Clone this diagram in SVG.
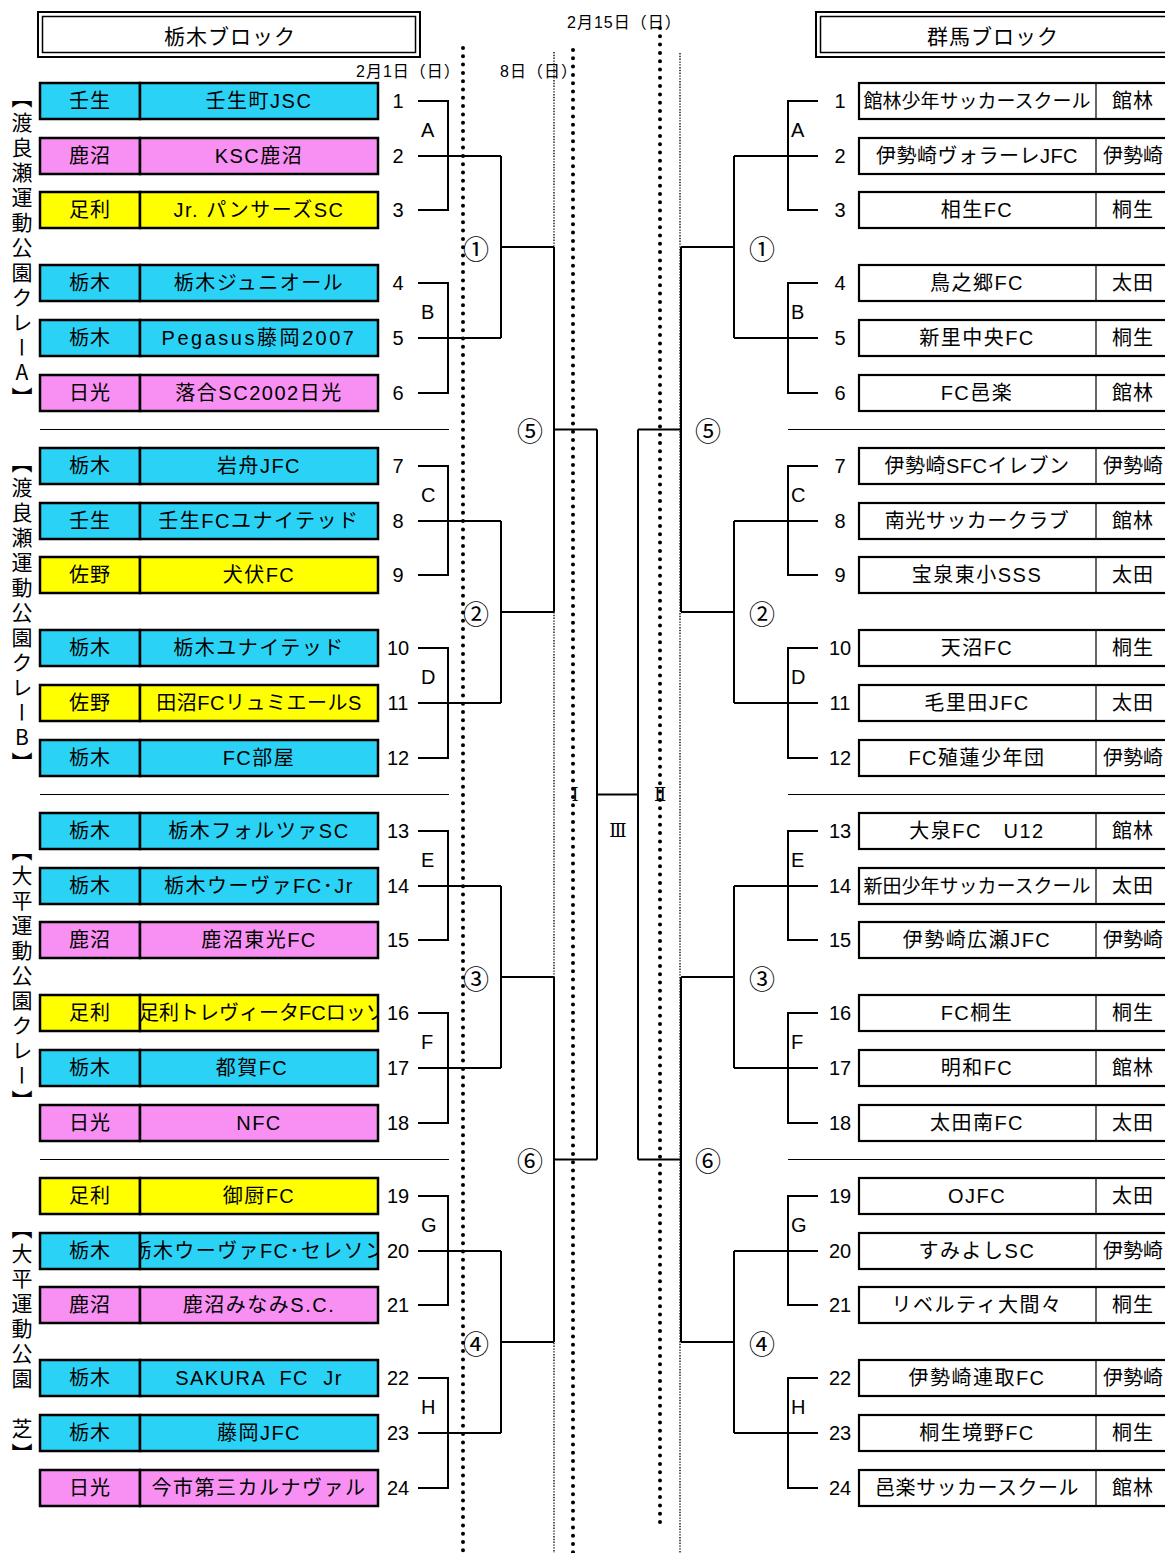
<svg xmlns="http://www.w3.org/2000/svg" width="1165" height="1553" viewBox="0 0 1165 1553">
<style>
.pc{fill:#2AD3F6}.pk{fill:#F790F2}.py{fill:#FFFF00}
.bx{stroke:#000;stroke-width:2.5}
.rb{fill:#fff;stroke:#000;stroke-width:2.2}
.dv{stroke:#000;stroke-width:1.2}
.nm{font-family:"Liberation Sans","Noto Sans CJK JP",sans-serif;font-size:20px;text-anchor:middle;dominant-baseline:central;letter-spacing:1.5px}
.nz{font-family:"Liberation Sans","Noto Sans CJK JP",sans-serif;font-size:19px;text-anchor:middle;dominant-baseline:central}
.pf{font-family:"Liberation Sans","Noto Sans CJK JP",sans-serif;font-size:20px;text-anchor:middle;dominant-baseline:central;letter-spacing:1px}
.no{font-family:"Liberation Sans","Noto Sans CJK JP",sans-serif;font-size:20px;text-anchor:middle;dominant-baseline:central}
.lt{font-family:"Liberation Sans",sans-serif;font-size:20px;dominant-baseline:central}
.ci{font-family:"Noto Sans CJK JP",sans-serif;font-size:26px;text-anchor:middle;dominant-baseline:central}
.rm{font-family:"DejaVu Serif","Noto Sans CJK JP",serif;font-size:18px;text-anchor:middle;dominant-baseline:central}
.dt{font-family:"Liberation Sans","Noto Sans CJK JP",sans-serif;font-size:16px;dominant-baseline:central;letter-spacing:1px}
.hd{font-family:"Noto Sans CJK JP",sans-serif;font-size:21px;text-anchor:middle;dominant-baseline:central;letter-spacing:1px}
.vt{font-family:"Noto Sans CJK JP",sans-serif;font-size:21px;writing-mode:vertical-rl;text-orientation:upright;letter-spacing:4px}
.ln{stroke:#000;stroke-width:2;fill:none}
.sp{stroke:#000;stroke-width:1;fill:none}
.bd{stroke:#000;stroke-width:4;stroke-linecap:round;stroke-dasharray:0 8.3;fill:none}
.td{stroke:#000;stroke-width:1.3;stroke-dasharray:1.4 1.4;fill:none}
</style>
<defs>
<clipPath id="cl16"><rect x="141" y="995" width="236" height="36"/></clipPath>
<clipPath id="cl20"><rect x="141" y="1233" width="236" height="36"/></clipPath>
</defs>

<g id="guides">
<line class="bd" x1="463" y1="48" x2="463" y2="1553"/>
<line class="bd" x1="573" y1="50" x2="573" y2="1553"/>
<line class="bd" x1="660" y1="28" x2="660" y2="1530"/>
<line class="td" x1="554" y1="52" x2="554" y2="1553"/>
<line class="td" x1="680" y1="53" x2="680" y2="1553"/>
<line class="sp" x1="40" y1="429.5" x2="449" y2="429.5"/>
<line class="sp" x1="40" y1="794.5" x2="449" y2="794.5"/>
<line class="sp" x1="40" y1="1159.5" x2="449" y2="1159.5"/>
<line class="sp" x1="788" y1="429.5" x2="1165" y2="429.5"/>
<line class="sp" x1="788" y1="794.5" x2="1165" y2="794.5"/>
<line class="sp" x1="788" y1="1159.5" x2="1165" y2="1159.5"/>
</g>

<g id="header-tochigi">
<rect x="38" y="12" width="382" height="45" fill="#fff" stroke="#000" stroke-width="2"/>
<rect x="42.5" y="16.5" width="373" height="36" fill="none" stroke="#000" stroke-width="1.5"/>
<text class="hd" x="230" y="35">栃木ブロック</text>
</g>
<g id="header-gunma">
<rect x="816" y="12" width="360" height="45" fill="#fff" stroke="#000" stroke-width="2"/>
<rect x="820.5" y="16.5" width="352" height="36" fill="none" stroke="#000" stroke-width="1.5"/>
<text class="hd" x="993" y="35">群馬ブロック</text>
</g>
<g id="dates">
<text class="dt" x="356" y="71">2月1日（日）</text>
<text class="dt" x="500" y="71">8日（日）</text>
<text class="dt" x="567" y="22">2月15日（日）</text>
</g>

<g id="venues">
<text class="vt" x="22" y="86.5">【渡良瀬運動公園クレーA】</text>
<text class="vt" x="22" y="452">【渡良瀬運動公園クレーB】</text>
<text class="vt" x="22" y="839.5">【大平運動公園クレー】</text>
<text class="vt" x="22" y="1217.5">【大平運動公園　芝】</text>
</g>

<g id="connectors">
<path class="ln" d="M418 101H448V210H418M418 156H501M418 283H448V393H418M418 338H501M501 156V338M501 247H554"/>
<path class="ln" d="M418 466H448V575H418M418 521H501M418 648H448V758H418M418 703H501M501 521V703M501 612H554"/>
<path class="ln" d="M418 831H448V940H418M418 886H501M418 1013H448V1123H418M418 1068H501M501 886V1068M501 977H554"/>
<path class="ln" d="M418 1196H448V1305H418M418 1251H501M418 1378H448V1488H418M418 1433H501M501 1251V1433M501 1342H554"/>
<path class="ln" d="M554 247V612M554 429.5H597M554 977V1342M554 1159.5H597M597 429.5V1159.5M597 794.5H638"/>
<path class="ln" d="M818 101H788V210H818M818 156H734M818 283H788V393H818M818 338H734M734 156V338M734 247H681"/>
<path class="ln" d="M818 466H788V575H818M818 521H734M818 648H788V758H818M818 703H734M734 521V703M734 612H681"/>
<path class="ln" d="M818 831H788V940H818M818 886H734M818 1013H788V1123H818M818 1068H734M734 886V1068M734 977H681"/>
<path class="ln" d="M818 1196H788V1305H818M818 1251H734M818 1378H788V1488H818M818 1433H734M734 1251V1433M734 1342H681"/>
<path class="ln" d="M681 247V612M681 429.5H638M681 977V1342M681 1159.5H638M638 429.5V1159.5"/>
</g>

<g id="labels">
<text class="lt" x="421" y="130">A</text>
<text class="lt" x="421" y="312">B</text>
<text class="lt" x="421" y="495">C</text>
<text class="lt" x="421" y="677">D</text>
<text class="lt" x="421" y="860">E</text>
<text class="lt" x="421" y="1042">F</text>
<text class="lt" x="421" y="1225">G</text>
<text class="lt" x="421" y="1407">H</text>
<text class="lt" x="791" y="130">A</text>
<text class="lt" x="791" y="312">B</text>
<text class="lt" x="791" y="495">C</text>
<text class="lt" x="791" y="677">D</text>
<text class="lt" x="791" y="860">E</text>
<text class="lt" x="791" y="1042">F</text>
<text class="lt" x="791" y="1225">G</text>
<text class="lt" x="791" y="1407">H</text>
<text class="ci" x="476" y="247">①</text>
<text class="ci" x="476" y="612">②</text>
<text class="ci" x="476" y="977">③</text>
<text class="ci" x="476" y="1342">④</text>
<text class="ci" x="530" y="429">⑤</text>
<text class="ci" x="530" y="1159">⑥</text>
<text class="ci" x="762" y="247">①</text>
<text class="ci" x="762" y="612">②</text>
<text class="ci" x="762" y="977">③</text>
<text class="ci" x="762" y="1342">④</text>
<text class="ci" x="708" y="429">⑤</text>
<text class="ci" x="708" y="1159">⑥</text>
<text class="rm" x="575" y="794">Ⅰ</text>
<text class="rm" x="660" y="794">Ⅱ</text>
<text class="rm" x="618" y="830">Ⅲ</text>
</g>

<g id="L1"><rect class="pc bx" x="40" y="83" width="100" height="36"/><rect class="pc bx" x="140" y="83" width="238" height="36"/><text class="pf" x="90" y="101">壬生</text><text class="nm" x="259" y="101">壬生町JSC</text><text class="no" x="398" y="101">1</text></g>
<g id="L2"><rect class="pk bx" x="40" y="138" width="100" height="36"/><rect class="pk bx" x="140" y="138" width="238" height="36"/><text class="pf" x="90" y="156">鹿沼</text><text class="nm" x="259" y="156">KSC鹿沼</text><text class="no" x="398" y="156">2</text></g>
<g id="L3"><rect class="py bx" x="40" y="192" width="100" height="36"/><rect class="py bx" x="140" y="192" width="238" height="36"/><text class="pf" x="90" y="210">足利</text><text class="nm" x="259" y="210">Jr. パンサーズSC</text><text class="no" x="398" y="210">3</text></g>
<g id="L4"><rect class="pc bx" x="40" y="265" width="100" height="36"/><rect class="pc bx" x="140" y="265" width="238" height="36"/><text class="pf" x="90" y="283">栃木</text><text class="nm" x="259" y="283">栃木ジュニオール</text><text class="no" x="398" y="283">4</text></g>
<g id="L5"><rect class="pc bx" x="40" y="320" width="100" height="36"/><rect class="pc bx" x="140" y="320" width="238" height="36"/><text class="pf" x="90" y="338">栃木</text><text class="nm" x="259" y="338" style="letter-spacing:2.5px">Pegasus藤岡2007</text><text class="no" x="398" y="338">5</text></g>
<g id="L6"><rect class="pk bx" x="40" y="375" width="100" height="36"/><rect class="pk bx" x="140" y="375" width="238" height="36"/><text class="pf" x="90" y="393">日光</text><text class="nm" x="259" y="393">落合SC2002日光</text><text class="no" x="398" y="393">6</text></g>
<g id="L7"><rect class="pc bx" x="40" y="448" width="100" height="36"/><rect class="pc bx" x="140" y="448" width="238" height="36"/><text class="pf" x="90" y="466">栃木</text><text class="nm" x="259" y="466">岩舟JFC</text><text class="no" x="398" y="466">7</text></g>
<g id="L8"><rect class="pc bx" x="40" y="503" width="100" height="36"/><rect class="pc bx" x="140" y="503" width="238" height="36"/><text class="pf" x="90" y="521">壬生</text><text class="nm" x="259" y="521">壬生FCユナイテッド</text><text class="no" x="398" y="521">8</text></g>
<g id="L9"><rect class="py bx" x="40" y="557" width="100" height="36"/><rect class="py bx" x="140" y="557" width="238" height="36"/><text class="pf" x="90" y="575">佐野</text><text class="nm" x="259" y="575">犬伏FC</text><text class="no" x="398" y="575">9</text></g>
<g id="L10"><rect class="pc bx" x="40" y="630" width="100" height="36"/><rect class="pc bx" x="140" y="630" width="238" height="36"/><text class="pf" x="90" y="648">栃木</text><text class="nm" x="259" y="648">栃木ユナイテッド</text><text class="no" x="398" y="648">10</text></g>
<g id="L11"><rect class="py bx" x="40" y="685" width="100" height="36"/><rect class="py bx" x="140" y="685" width="238" height="36"/><text class="pf" x="90" y="703">佐野</text><text class="nm" x="259" y="703" style="letter-spacing:0.5px">田沼FCリュミエールS</text><text class="no" x="398" y="703">11</text></g>
<g id="L12"><rect class="pc bx" x="40" y="740" width="100" height="36"/><rect class="pc bx" x="140" y="740" width="238" height="36"/><text class="pf" x="90" y="758">栃木</text><text class="nm" x="259" y="758">FC部屋</text><text class="no" x="398" y="758">12</text></g>
<g id="L13"><rect class="pc bx" x="40" y="813" width="100" height="36"/><rect class="pc bx" x="140" y="813" width="238" height="36"/><text class="pf" x="90" y="831">栃木</text><text class="nm" x="259" y="831">栃木フォルツァSC</text><text class="no" x="398" y="831">13</text></g>
<g id="L14"><rect class="pc bx" x="40" y="868" width="100" height="36"/><rect class="pc bx" x="140" y="868" width="238" height="36"/><text class="pf" x="90" y="886">栃木</text><text class="nm" x="259" y="886">栃木ウーヴァFC･Jr</text><text class="no" x="398" y="886">14</text></g>
<g id="L15"><rect class="pk bx" x="40" y="922" width="100" height="36"/><rect class="pk bx" x="140" y="922" width="238" height="36"/><text class="pf" x="90" y="940">鹿沼</text><text class="nm" x="259" y="940">鹿沼東光FC</text><text class="no" x="398" y="940">15</text></g>
<g id="L16"><rect class="py bx" x="40" y="995" width="100" height="36"/><rect class="py bx" x="140" y="995" width="238" height="36"/><text class="pf" x="90" y="1013">足利</text><text class="nm" x="139" y="1013" style="text-anchor:start;letter-spacing:0px" clip-path="url(#cl16)">足利トレヴィータFCロッソ</text><text class="no" x="398" y="1013">16</text></g>
<g id="L17"><rect class="pc bx" x="40" y="1050" width="100" height="36"/><rect class="pc bx" x="140" y="1050" width="238" height="36"/><text class="pf" x="90" y="1068">栃木</text><text class="nm" x="252" y="1068">都賀FC</text><text class="no" x="398" y="1068">17</text></g>
<g id="L18"><rect class="pk bx" x="40" y="1105" width="100" height="36"/><rect class="pk bx" x="140" y="1105" width="238" height="36"/><text class="pf" x="90" y="1123">日光</text><text class="nm" x="259" y="1123">NFC</text><text class="no" x="398" y="1123">18</text></g>
<g id="L19"><rect class="py bx" x="40" y="1178" width="100" height="36"/><rect class="py bx" x="140" y="1178" width="238" height="36"/><text class="pf" x="90" y="1196">足利</text><text class="nm" x="259" y="1196">御厨FC</text><text class="no" x="398" y="1196">19</text></g>
<g id="L20"><rect class="pc bx" x="40" y="1233" width="100" height="36"/><rect class="pc bx" x="140" y="1233" width="238" height="36"/><text class="pf" x="90" y="1251">栃木</text><text class="nm" x="259" y="1251" style="letter-spacing:1.4px" clip-path="url(#cl20)">栃木ウーヴァFC･セレソン</text><text class="no" x="398" y="1251">20</text></g>
<g id="L21"><rect class="pk bx" x="40" y="1287" width="100" height="36"/><rect class="pk bx" x="140" y="1287" width="238" height="36"/><text class="pf" x="90" y="1305">鹿沼</text><text class="nm" x="259" y="1305">鹿沼みなみS.C.</text><text class="no" x="398" y="1305">21</text></g>
<g id="L22"><rect class="pc bx" x="40" y="1360" width="100" height="36"/><rect class="pc bx" x="140" y="1360" width="238" height="36"/><text class="pf" x="90" y="1378">栃木</text><text class="nm" x="259" y="1378" xml:space="preserve">SAKURA  FC  Jr</text><text class="no" x="398" y="1378">22</text></g>
<g id="L23"><rect class="pc bx" x="40" y="1415" width="100" height="36"/><rect class="pc bx" x="140" y="1415" width="238" height="36"/><text class="pf" x="90" y="1433">栃木</text><text class="nm" x="259" y="1433">藤岡JFC</text><text class="no" x="398" y="1433">23</text></g>
<g id="L24"><rect class="pk bx" x="40" y="1470" width="100" height="36"/><rect class="pk bx" x="140" y="1470" width="238" height="36"/><text class="pf" x="90" y="1488">日光</text><text class="nm" x="259" y="1488">今市第三カルナヴァル</text><text class="no" x="398" y="1488">24</text></g>

<g id="R1"><rect class="rb" x="859" y="83" width="310" height="36"/><line class="dv" x1="1096" y1="83" x2="1096" y2="119"/><text class="nz" x="977" y="101">館林少年サッカースクール</text><text class="pf" x="1133" y="101">館林</text><text class="no" x="840" y="101">1</text></g>
<g id="R2"><rect class="rb" x="859" y="138" width="310" height="36"/><line class="dv" x1="1096" y1="138" x2="1096" y2="174"/><text class="nm" x="977" y="156" style="letter-spacing:0.5px">伊勢崎ヴォラーレJFC</text><text class="pf" x="1133" y="156" style="letter-spacing:0px">伊勢崎</text><text class="no" x="840" y="156">2</text></g>
<g id="R3"><rect class="rb" x="859" y="192" width="310" height="36"/><line class="dv" x1="1096" y1="192" x2="1096" y2="228"/><text class="nm" x="977" y="210">相生FC</text><text class="pf" x="1133" y="210">桐生</text><text class="no" x="840" y="210">3</text></g>
<g id="R4"><rect class="rb" x="859" y="265" width="310" height="36"/><line class="dv" x1="1096" y1="265" x2="1096" y2="301"/><text class="nm" x="977" y="283">鳥之郷FC</text><text class="pf" x="1133" y="283">太田</text><text class="no" x="840" y="283">4</text></g>
<g id="R5"><rect class="rb" x="859" y="320" width="310" height="36"/><line class="dv" x1="1096" y1="320" x2="1096" y2="356"/><text class="nm" x="977" y="338">新里中央FC</text><text class="pf" x="1133" y="338">桐生</text><text class="no" x="840" y="338">5</text></g>
<g id="R6"><rect class="rb" x="859" y="375" width="310" height="36"/><line class="dv" x1="1096" y1="375" x2="1096" y2="411"/><text class="nm" x="977" y="393">FC邑楽</text><text class="pf" x="1133" y="393">館林</text><text class="no" x="840" y="393">6</text></g>
<g id="R7"><rect class="rb" x="859" y="448" width="310" height="36"/><line class="dv" x1="1096" y1="448" x2="1096" y2="484"/><text class="nm" x="977" y="466" style="letter-spacing:0.5px">伊勢崎SFCイレブン</text><text class="pf" x="1133" y="466" style="letter-spacing:0px">伊勢崎</text><text class="no" x="840" y="466">7</text></g>
<g id="R8"><rect class="rb" x="859" y="503" width="310" height="36"/><line class="dv" x1="1096" y1="503" x2="1096" y2="539"/><text class="nm" x="977" y="521" style="letter-spacing:0.5px">南光サッカークラブ</text><text class="pf" x="1133" y="521">館林</text><text class="no" x="840" y="521">8</text></g>
<g id="R9"><rect class="rb" x="859" y="557" width="310" height="36"/><line class="dv" x1="1096" y1="557" x2="1096" y2="593"/><text class="nm" x="977" y="575">宝泉東小SSS</text><text class="pf" x="1133" y="575">太田</text><text class="no" x="840" y="575">9</text></g>
<g id="R10"><rect class="rb" x="859" y="630" width="310" height="36"/><line class="dv" x1="1096" y1="630" x2="1096" y2="666"/><text class="nm" x="977" y="648">天沼FC</text><text class="pf" x="1133" y="648">桐生</text><text class="no" x="840" y="648">10</text></g>
<g id="R11"><rect class="rb" x="859" y="685" width="310" height="36"/><line class="dv" x1="1096" y1="685" x2="1096" y2="721"/><text class="nm" x="977" y="703">毛里田JFC</text><text class="pf" x="1133" y="703">太田</text><text class="no" x="840" y="703">11</text></g>
<g id="R12"><rect class="rb" x="859" y="740" width="310" height="36"/><line class="dv" x1="1096" y1="740" x2="1096" y2="776"/><text class="nm" x="977" y="758">FC殖蓮少年団</text><text class="pf" x="1133" y="758" style="letter-spacing:0px">伊勢崎</text><text class="no" x="840" y="758">12</text></g>
<g id="R13"><rect class="rb" x="859" y="813" width="310" height="36"/><line class="dv" x1="1096" y1="813" x2="1096" y2="849"/><text class="nm" x="977" y="831">大泉FC　U12</text><text class="pf" x="1133" y="831">館林</text><text class="no" x="840" y="831">13</text></g>
<g id="R14"><rect class="rb" x="859" y="868" width="310" height="36"/><line class="dv" x1="1096" y1="868" x2="1096" y2="904"/><text class="nz" x="977" y="886">新田少年サッカースクール</text><text class="pf" x="1133" y="886">太田</text><text class="no" x="840" y="886">14</text></g>
<g id="R15"><rect class="rb" x="859" y="922" width="310" height="36"/><line class="dv" x1="1096" y1="922" x2="1096" y2="958"/><text class="nm" x="977" y="940">伊勢崎広瀬JFC</text><text class="pf" x="1133" y="940" style="letter-spacing:0px">伊勢崎</text><text class="no" x="840" y="940">15</text></g>
<g id="R16"><rect class="rb" x="859" y="995" width="310" height="36"/><line class="dv" x1="1096" y1="995" x2="1096" y2="1031"/><text class="nm" x="977" y="1013">FC桐生</text><text class="pf" x="1133" y="1013">桐生</text><text class="no" x="840" y="1013">16</text></g>
<g id="R17"><rect class="rb" x="859" y="1050" width="310" height="36"/><line class="dv" x1="1096" y1="1050" x2="1096" y2="1086"/><text class="nm" x="977" y="1068">明和FC</text><text class="pf" x="1133" y="1068">館林</text><text class="no" x="840" y="1068">17</text></g>
<g id="R18"><rect class="rb" x="859" y="1105" width="310" height="36"/><line class="dv" x1="1096" y1="1105" x2="1096" y2="1141"/><text class="nm" x="977" y="1123">太田南FC</text><text class="pf" x="1133" y="1123">太田</text><text class="no" x="840" y="1123">18</text></g>
<g id="R19"><rect class="rb" x="859" y="1178" width="310" height="36"/><line class="dv" x1="1096" y1="1178" x2="1096" y2="1214"/><text class="nm" x="977" y="1196">OJFC</text><text class="pf" x="1133" y="1196">太田</text><text class="no" x="840" y="1196">19</text></g>
<g id="R20"><rect class="rb" x="859" y="1233" width="310" height="36"/><line class="dv" x1="1096" y1="1233" x2="1096" y2="1269"/><text class="nm" x="977" y="1251">すみよしSC</text><text class="pf" x="1133" y="1251" style="letter-spacing:0px">伊勢崎</text><text class="no" x="840" y="1251">20</text></g>
<g id="R21"><rect class="rb" x="859" y="1287" width="310" height="36"/><line class="dv" x1="1096" y1="1287" x2="1096" y2="1323"/><text class="nm" x="977" y="1305">リベルティ大間々</text><text class="pf" x="1133" y="1305">桐生</text><text class="no" x="840" y="1305">21</text></g>
<g id="R22"><rect class="rb" x="859" y="1360" width="310" height="36"/><line class="dv" x1="1096" y1="1360" x2="1096" y2="1396"/><text class="nm" x="977" y="1378">伊勢崎連取FC</text><text class="pf" x="1133" y="1378" style="letter-spacing:0px">伊勢崎</text><text class="no" x="840" y="1378">22</text></g>
<g id="R23"><rect class="rb" x="859" y="1415" width="310" height="36"/><line class="dv" x1="1096" y1="1415" x2="1096" y2="1451"/><text class="nm" x="977" y="1433">桐生境野FC</text><text class="pf" x="1133" y="1433">桐生</text><text class="no" x="840" y="1433">23</text></g>
<g id="R24"><rect class="rb" x="859" y="1470" width="310" height="36"/><line class="dv" x1="1096" y1="1470" x2="1096" y2="1506"/><text class="nm" x="977" y="1488" style="letter-spacing:0.5px">邑楽サッカースクール</text><text class="pf" x="1133" y="1488">館林</text><text class="no" x="840" y="1488">24</text></g>
</svg>
